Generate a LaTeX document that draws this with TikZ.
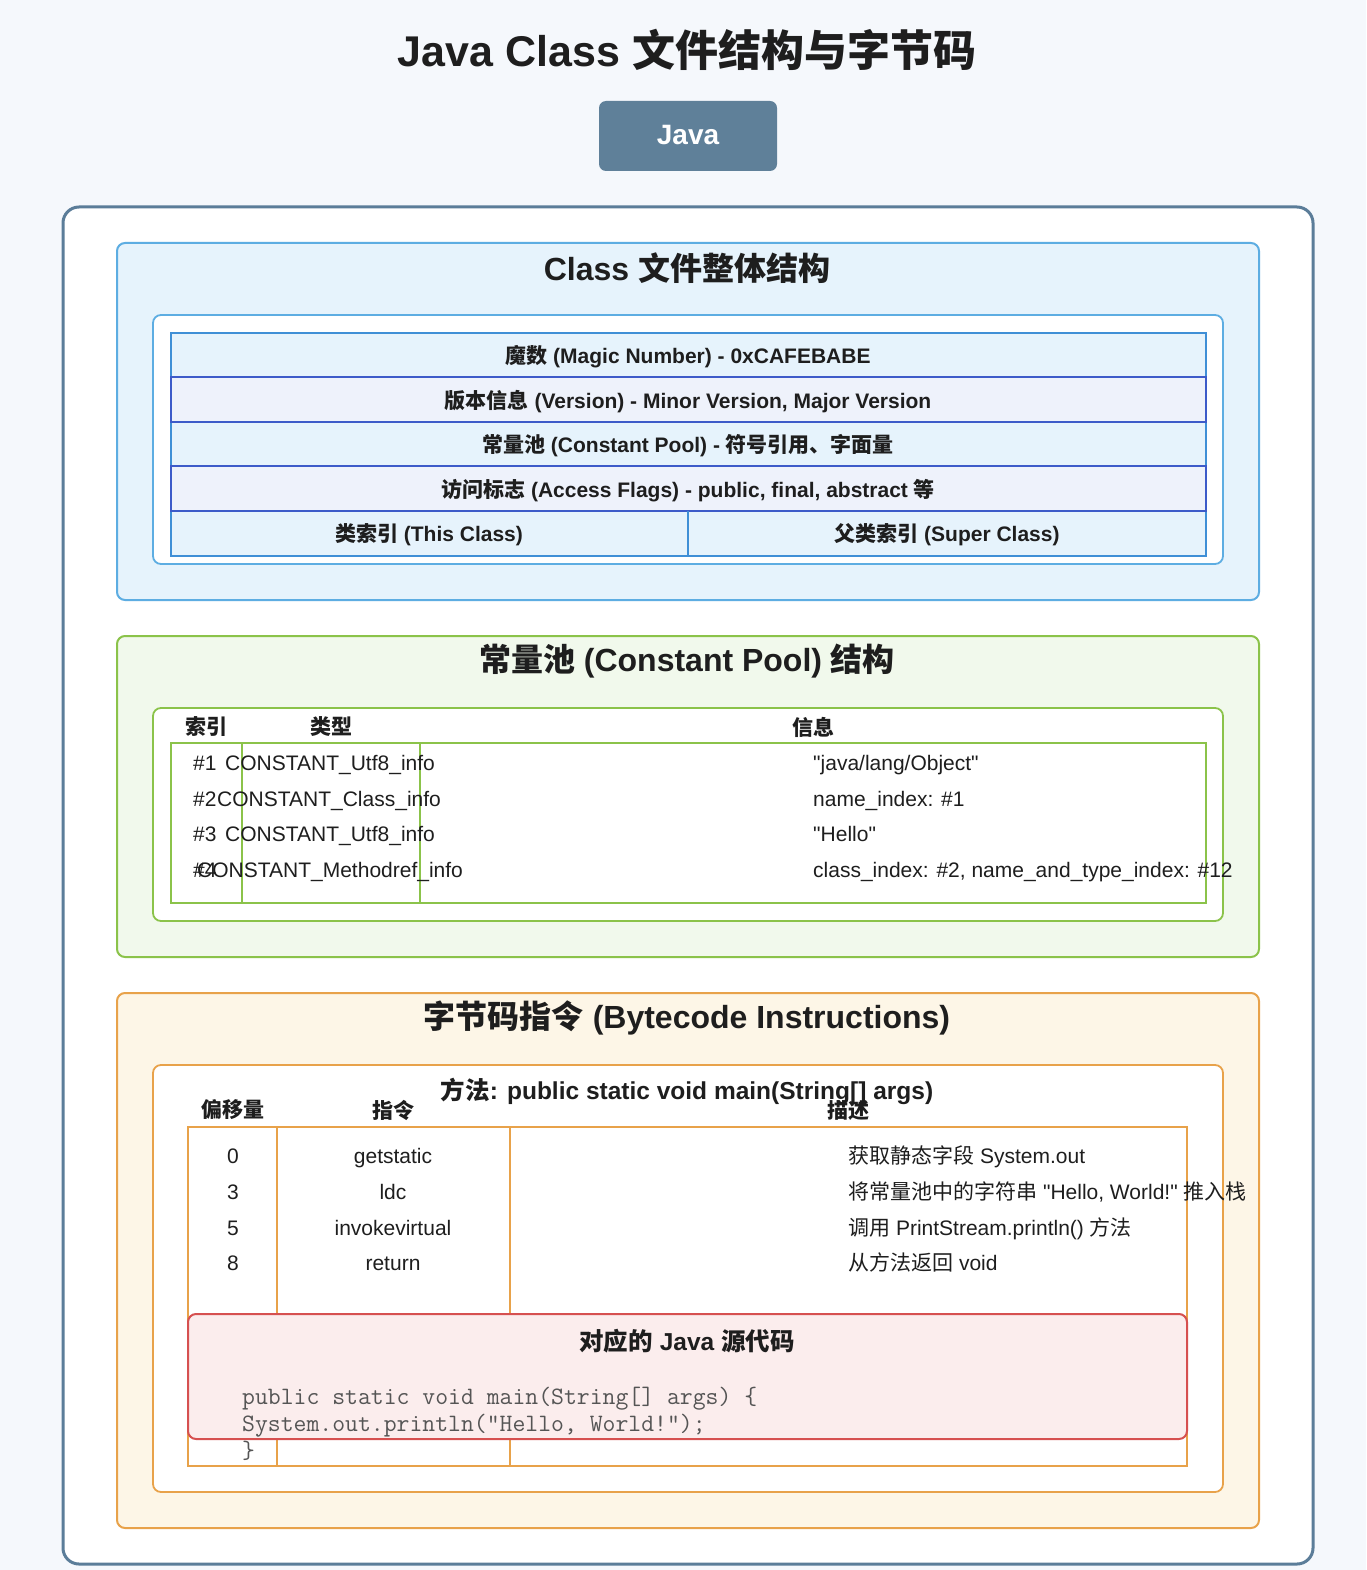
\documentclass[tikz,border=0pt]{standalone}
\usepackage{fontspec}
\setmainfont{Liberation Sans}[Ligatures=TeXOff]
\newfontfamily\cjkfont{Noto Sans CJK SC}
% switch to the CJK font for Chinese characters
\XeTeXinterchartokenstate=1
\newXeTeXintercharclass\cjkclass
\makeatletter
\count@="3000
\loop\ifnum\count@<"A000 \XeTeXcharclass\count@=\cjkclass \advance\count@ by 1 \repeat
\count@="FF00
\loop\ifnum\count@<"FFF0 \XeTeXcharclass\count@=\cjkclass \advance\count@ by 1 \repeat
\makeatother
\XeTeXinterchartoks 0 \cjkclass = {\begingroup\cjkfont}
\XeTeXinterchartoks 4095 \cjkclass = {\begingroup\cjkfont}
\XeTeXinterchartoks \cjkclass 0 = {\endgroup}
\XeTeXinterchartoks \cjkclass 4095 = {\endgroup}
\usepackage{tikz}
\usepackage{xcolor}
\usetikzlibrary{positioning}
\definecolor{pagebg}{HTML}{F5F8FC}
\definecolor{framecolor}{HTML}{5B7D99}
\definecolor{btncolor}{HTML}{5F8099}
\definecolor{bluebd}{HTML}{5DADE2}
\definecolor{bluebg}{HTML}{E6F3FC}
\definecolor{rowblue}{HTML}{3F8FD6}
\definecolor{rowindigo}{HTML}{3D5BC9}
\definecolor{rowlav}{HTML}{EEF2FB}
\definecolor{greenbd}{HTML}{8BC34A}
\definecolor{greenbg}{HTML}{F1F9EC}
\definecolor{orangebd}{HTML}{E8A24A}
\definecolor{orangebg}{HTML}{FDF6E7}
\definecolor{redbd}{HTML}{D65050}
\definecolor{redbg}{HTML}{FBEDED}
\definecolor{codegray}{HTML}{555555}
\definecolor{inkcolor}{HTML}{1E1E1E}

\begin{document}
\begin{tikzpicture}[x=1pt, y=-1pt, every node/.style={inner sep=0pt, text=inkcolor},
    secbox/.style={rounded corners=8pt, line width=2pt},
    innerbox/.style={rounded corners=8pt, line width=1.8pt, fill=white},
    secttl/.style={font=\fontsize{32}{36}\selectfont\bfseries},
    hdr/.style={font=\fontsize{21}{25}\selectfont\bfseries},
    txt/.style={font=\fontsize{21}{25}\selectfont},
    codeln/.style={anchor=base west, text=codegray, font=\fontsize{25}{29}\selectfont\ttfamily}]
  \useasboundingbox (0,0) rectangle (1366,1570);
  \fill[pagebg] (0,0) rectangle (1366,1570);

  % Title and badge
  \node[font=\fontsize{43}{48}\selectfont\bfseries] (title) at (687,50) {Java Class 文件结构与字节码};
  \fill[btncolor, rounded corners=7pt] (599,101) rectangle (777,171);
  \node[text=white, font=\fontsize{28}{32}\selectfont\bfseries] (badge) at (688,135) {Java};

  % Outer frame
  \draw[framecolor, line width=3pt, fill=white, rounded corners=16pt] (63,207) rectangle (1313,1564);

  % Section 1: overall structure
  \draw[secbox, bluebd, fill=bluebg] (117,243) rectangle (1259,600);
  \node[secttl] (clsttl) at (687,268) {Class 文件整体结构};
  \draw[innerbox, draw=bluebd] (153,315) rectangle (1223,564);
  \foreach \top/\bot in {333/377, 422/466, 511/556}
    \draw[rowblue, line width=1.6pt, fill=bluebg] (171,\top) rectangle (1206,\bot);
  \foreach \top/\bot in {377/422, 466/511}
    \draw[rowindigo, line width=1.6pt, fill=rowlav] (171,\top) rectangle (1206,\bot);
  \draw[rowblue, line width=1.6pt] (688,511) -- (688,556);
  \node[hdr, anchor=base] (magic) at (688,363) {魔数 (Magic Number) - 0xCAFEBABE};
  \node[hdr, anchor=base] (version) at (688,408) {版本信息 (Version) - Minor Version, Major Version};
  \node[hdr, anchor=base] (cpool) at (688,452) {常量池 (Constant Pool) - 符号引用、字面量};
  \node[hdr, anchor=base] (flags) at (688,497) {访问标志 (Access Flags) - public, final, abstract 等};
  \node[hdr, anchor=base] (thiscls) at (429,541) {类索引 (This Class)};
  \node[hdr, anchor=base] (supercls) at (947,541) {父类索引 (Super Class)};

  % Section 2: constant pool
  \draw[secbox, greenbd, fill=greenbg] (117,636) rectangle (1259,957);
  \node[secttl] (cpttl) at (687,661) {常量池 (Constant Pool) 结构};
  \draw[innerbox, draw=greenbd] (153,708) rectangle (1223,921);
  \node[hdr] (idxhdr) at (206,727) {索引};
  \node[hdr] (typhdr) at (331,727) {类型};
  \node[hdr] (infohdr) at (813,727) {信息};
  \draw[greenbd, line width=1.8pt] (171,743) rectangle (1206,903);
  \draw[greenbd, line width=1.8pt] (242,743) -- (242,903) (420,743) -- (420,903);
  \foreach \n/\idx/\tx/\typ/\info/\y in {
      1/\#1/225/CONSTANT\_Utf8\_info/{"java/lang/Object"}/770,
      2/\#2/217/CONSTANT\_Class\_info/{name\_index: \#1}/806,
      3/\#3/225/CONSTANT\_Utf8\_info/{"Hello"}/841,
      4/\#4/197/CONSTANT\_Methodref\_info/{class\_index: \#2, name\_and\_type\_index: \#12}/877} {
    \node[txt, anchor=base west] (cpidx\n) at (193,\y) {\idx};
    \node[txt, anchor=base west] (cptyp\n) at (\tx,\y) {\typ};
    \node[txt, anchor=base west] (cpinfo\n) at (813,\y) {\info};
  }

  % Section 3: bytecode
  \draw[secbox, orangebd, fill=orangebg] (117,993) rectangle (1259,1528);
  \node[secttl] (bcttl) at (687,1018) {字节码指令 (Bytecode Instructions)};
  \draw[innerbox, draw=orangebd] (153,1065) rectangle (1223,1492);
  \node[font=\fontsize{24.5}{28}\selectfont\bfseries] (method) at (687,1091) {方法: public static void main(String[] args)};
  \node[hdr] (offhdr) at (233,1110) {偏移量};
  \node[hdr] (inshdr) at (393,1110) {指令};
  \node[hdr] (deschdr) at (848,1110) {描述};
  \draw[orangebd, line width=1.8pt] (188,1127) rectangle (1187,1466);
  \draw[orangebd, line width=1.8pt] (277,1127) -- (277,1466) (510,1127) -- (510,1466);
  \foreach \n/\off/\ins/\desc/\y in {
      1/0/getstatic/{获取静态字段 System.out}/1163,
      2/3/ldc/{将常量池中的字符串 "Hello, World!" 推入栈}/1199,
      3/5/invokevirtual/{调用 PrintStream.println() 方法}/1235,
      4/8/return/{从方法返回 void}/1270} {
    \node[txt, anchor=base] (off\n) at (233,\y) {\off};
    \node[txt, anchor=base] (ins\n) at (393,\y) {\ins};
    \node[txt, anchor=base west] (desc\n) at (848,\y) {\desc};
  }

  % Source code box
  \draw[rounded corners=8pt, line width=2pt, redbd, fill=redbg] (188,1314) rectangle (1187,1439);
  \node[font=\fontsize{24.5}{28}\selectfont\bfseries] (srcttl) at (687,1341) {对应的 Java 源代码};
  \node[codeln] (code1) at (242,1404) {public static void main(String[] args) \{};
  \node[codeln] (code2) at (242,1431) {System.out.println("Hello, World!");};
  \node[codeln] (code3) at (242,1458) {\}};
\end{tikzpicture}
\end{document}
